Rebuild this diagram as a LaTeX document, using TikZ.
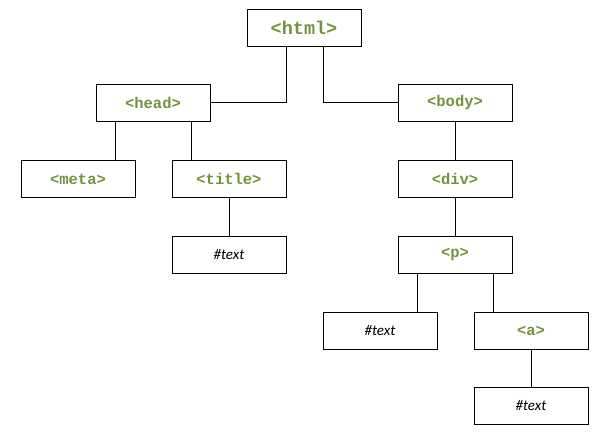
\documentclass[tikz,border=0pt]{standalone}
\usepackage{fontspec}
\setmonofont{Liberation Mono}
\newfontfamily\nodetextfont{Carlito}
\definecolor{taggreen}{HTML}{76923C}
\begin{document}
\begin{tikzpicture}[x=1pt, y=-1pt, line width=1pt,
  tagbox/.style={draw=black, fill=white, minimum width=114pt, minimum height=37pt, inner sep=0pt, text=taggreen, font=\fontsize{15.5}{18}\selectfont\ttfamily\bfseries},
  txtbox/.style={draw=black, fill=white, minimum width=114pt, minimum height=37pt, inner sep=0pt, font=\fontsize{15}{18}\selectfont\nodetextfont\itshape}]
\useasboundingbox (0,0) rectangle (604,432);
% tree of nodes
\node (html) at (304,27.5) [tagbox, font=\fontsize{18.5}{22}\selectfont\ttfamily\bfseries] {<html>};
\node (head) at (153,102.5) [tagbox] {<head>};
\node (body) at (455,102.5) [tagbox] {<body>};
\node (meta) at (78,179) [tagbox] {<meta>};
\node (title) at (229,179) [tagbox] {<title>};
\node (div) at (455,179) [tagbox] {<div>};
\node (titletext) at (229,254.5) [txtbox] {\#text};
\node (p) at (455,254.5) [tagbox] {<p>};
\node (ptext) at (380,330.5) [txtbox] {\#text};
\node (a) at (531,330.5) [tagbox] {<a>};
\node (atext) at (531,405.5) [txtbox] {\#text};
% connectors
\draw ([xshift=-18pt]html.south) |- (head.east);
\draw ([xshift=19pt]html.south) |- (body.west);
\draw ([xshift=-38pt]head.south) -- ([xshift=-38pt]head.south |- meta.north);
\draw ([xshift=38pt]head.south) -- ([xshift=38pt]head.south |- title.north);
\draw (title.south) -- (titletext.north);
\draw (body.south) -- (div.north);
\draw (div.south) -- (p.north);
\draw ([xshift=-38pt]p.south) -- ([xshift=-38pt]p.south |- ptext.north);
\draw ([xshift=38pt]p.south) -- ([xshift=38pt]p.south |- a.north);
\draw (a.south) -- (atext.north);
\end{tikzpicture}
\end{document}
